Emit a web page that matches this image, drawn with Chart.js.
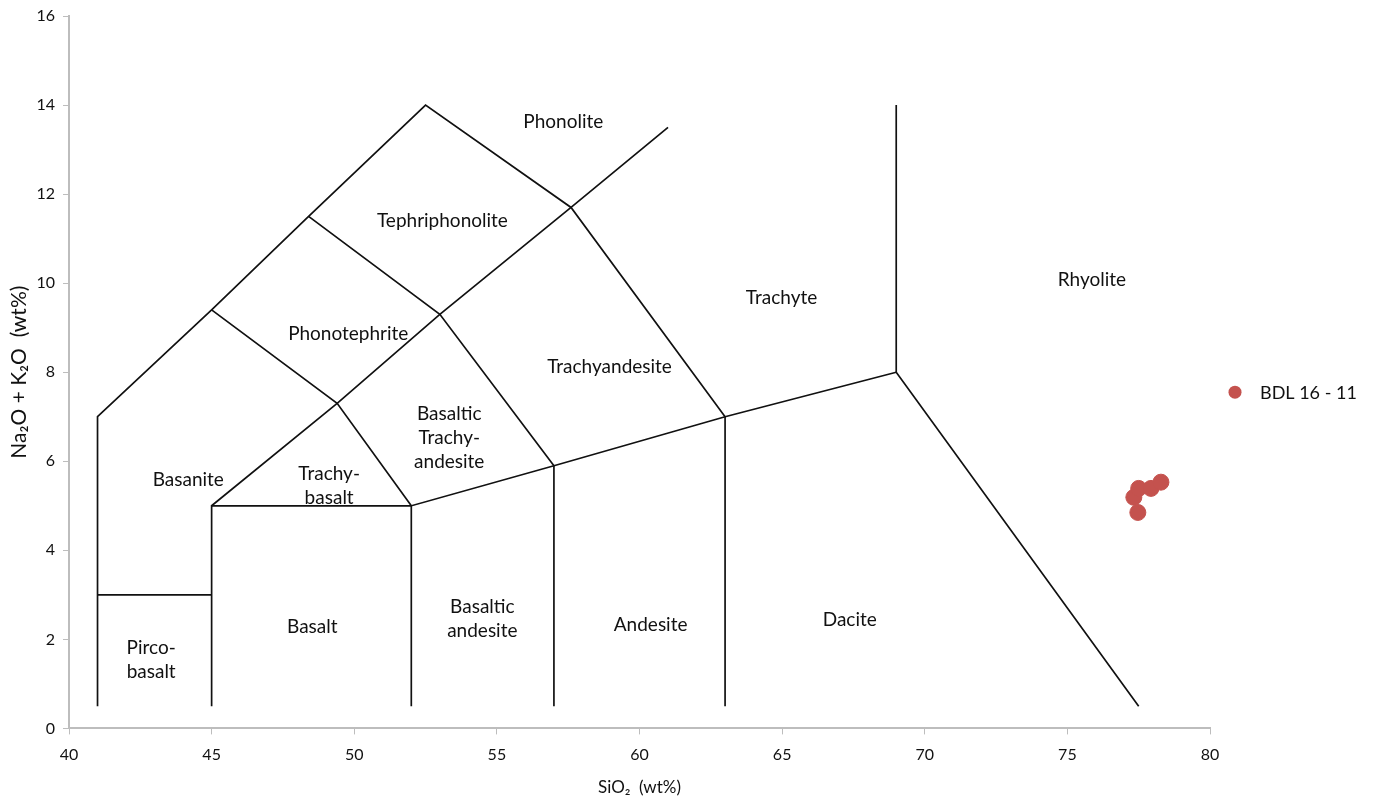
<!DOCTYPE html>
<html>
<head>
<meta charset="utf-8">
<script src="https://cdn.jsdelivr.net/npm/chart.js@4"></script>
<style>
  html, body { margin: 0; padding: 0; background: #fff; }
  #wrap { width: 1381px; height: 803px; }
</style>
</head>
<body>
<div id="wrap"><canvas id="myChart"></canvas></div>
<script>
// sample points (SiO2, Na2O + K2O)
const sampleName = 'BDL 16 - 11';
const sampleSiO2 = [77.33, 77.5, 77.93, 78.28, 77.47];
const sampleAlk = [5.19, 5.39, 5.39, 5.53, 4.85];

// TAS field boundaries, each one a polyline [SiO2, alkali]
const boundaries = [
    [[41, 0.5], [41, 7], [45, 9.4], [48.4, 11.5], [52.5, 14], [57.6, 11.7], [63, 7]],
    [[41, 3], [45, 3]],
    [[45, 0.5], [45, 5], [52, 5]],
    [[52, 0.5], [52, 5], [57, 5.9], [63, 7], [69, 8]],
    [[57, 0.5], [57, 5.9]],
    [[63, 0.5], [63, 7]],
    [[45, 5], [49.4, 7.3], [53, 9.3], [57.6, 11.7], [61, 13.5]],
    [[45, 9.4], [49.4, 7.3], [52, 5]],
    [[48.4, 11.5], [53, 9.3], [57, 5.9]],
    [[69, 14], [69, 8], [77.5, 0.5]]
];

// field names
const fieldNames = ['Phonolite', 'Tephriphonolite', 'Phonotephrite', 'Trachyandesite', 'Trachyte',
    'Rhyolite', 'Basaltic\nTrachy-\nandesite', 'Basanite', 'Trachy-\nbasalt', 'Basalt',
    'Basaltic\nandesite', 'Andesite', 'Dacite', 'Pirco-\nbasalt'];
const fieldSiO2 = [57.33, 53.09, 49.79, 58.95, 64.98, 75.86, 53.33, 44.18, 49.12, 48.53, 54.49, 60.39, 67.37, 42.88];
const fieldAlk = [13.62, 11.39, 8.86, 8.12, 9.66, 10.07, 6.53, 5.59, 5.45, 2.28, 2.45, 2.33, 2.44, 1.53];

const xTicks = [40, 45, 50, 55, 60, 65, 70, 75, 80];
const yTicks = [0, 2, 4, 6, 8, 10, 12, 14, 16];

const font = 'Lato, "Open Sans", sans-serif';
const pointColor = 'rgba(196, 82, 78, 1)';

const datasets = boundaries.map(function(line, i) {
    return {
        label: 'boundary' + i,
        data: line.map(p => ({ x: p[0], y: p[1] })),
        showLine: true,
        borderColor: '#111',
        borderWidth: 1.7,
        pointRadius: 0,
        fill: false
    };
});
datasets.push({
    label: sampleName,
    data: sampleSiO2.map((x, i) => ({ x: x, y: sampleAlk[i] })),
    backgroundColor: pointColor,
    borderColor: pointColor,
    pointRadius: 8,
    pointHoverRadius: 8,
    showLine: false
});

const fieldLabels = {
    id: 'fieldLabels',
    afterDatasetsDraw(chart) {
        const c = chart.ctx;
        const xs = chart.scales.x, ys = chart.scales.y;
        c.save();
        c.fillStyle = '#111';
        c.font = '19px ' + font;
        c.textAlign = 'center';
        c.textBaseline = 'middle';
        fieldNames.forEach(function(name, i) {
            const lines = name.split('\n');
            const px = xs.getPixelForValue(fieldSiO2[i]);
            const py = ys.getPixelForValue(fieldAlk[i]);
            const lh = 24;
            lines.forEach(function(t, j) {
                c.fillText(t, px, py + (j - (lines.length - 1) / 2) * lh);
            });
        });
        c.restore();
    }
};

// legend to the right of the plot
const sideLegend = {
    id: 'sideLegend',
    afterDraw(chart) {
        const c = chart.ctx;
        const area = chart.chartArea;
        const ds = chart.data.datasets[chart.data.datasets.length - 1];
        const y = (area.top + area.bottom) / 2 + 20;
        const x = area.right + 25;
        c.save();
        c.fillStyle = ds.backgroundColor;
        c.beginPath();
        c.arc(x, y, 6.5, 0, Math.PI * 2);
        c.fill();
        c.fillStyle = '#111';
        c.font = '18px ' + font;
        c.textAlign = 'left';
        c.textBaseline = 'middle';
        c.fillText(ds.label, x + 25, y + 1);
        c.restore();
    }
};

const ctx = document.getElementById('myChart').getContext('2d');
const chart = new Chart(ctx, {
    type: 'scatter',
    data: { datasets: datasets },
    plugins: [fieldLabels, sideLegend],
    options: {
        responsive: true,
        maintainAspectRatio: false,
        animation: false,
        layout: { padding: { top: 4, right: 171, left: 0, bottom: 1 } },
        plugins: {
            tooltip: { enabled: false },
            legend: { display: false }
        },
        scales: {
            x: {
                type: 'linear',
                min: 40,
                max: 80,
                afterBuildTicks: axis => { axis.ticks = xTicks.map(v => ({ value: v })); },
                ticks: { color: '#111', font: { family: font, size: 16 }, padding: 11 },
                grid: { display: true, drawOnChartArea: false, drawTicks: true, tickLength: 6, color: '#bdbdbd' },
                border: { color: '#bdbdbd', width: 2 },
                title: { display: true, text: 'SiO₂  (wt%)', color: '#111', font: { family: font, size: 17 }, padding: { top: 2 } }
            },
            y: {
                type: 'linear',
                min: 0,
                max: 16,
                afterBuildTicks: axis => { axis.ticks = yTicks.map(v => ({ value: v })); },
                afterFit: axis => { axis.width = 69; },
                ticks: { color: '#111', font: { family: font, size: 16, lineHeight: 1 }, padding: 8 },
                grid: { display: true, drawOnChartArea: false, drawTicks: true, tickLength: 6, color: '#bdbdbd' },
                border: { color: '#bdbdbd', width: 2 },
                title: { display: true, text: 'Na₂O + K₂O  (wt%)', color: '#111', font: { family: font, size: 21 }, padding: { top: 7, bottom: 0 } }
            }
        }
    }
});
</script>
</body>
</html>
